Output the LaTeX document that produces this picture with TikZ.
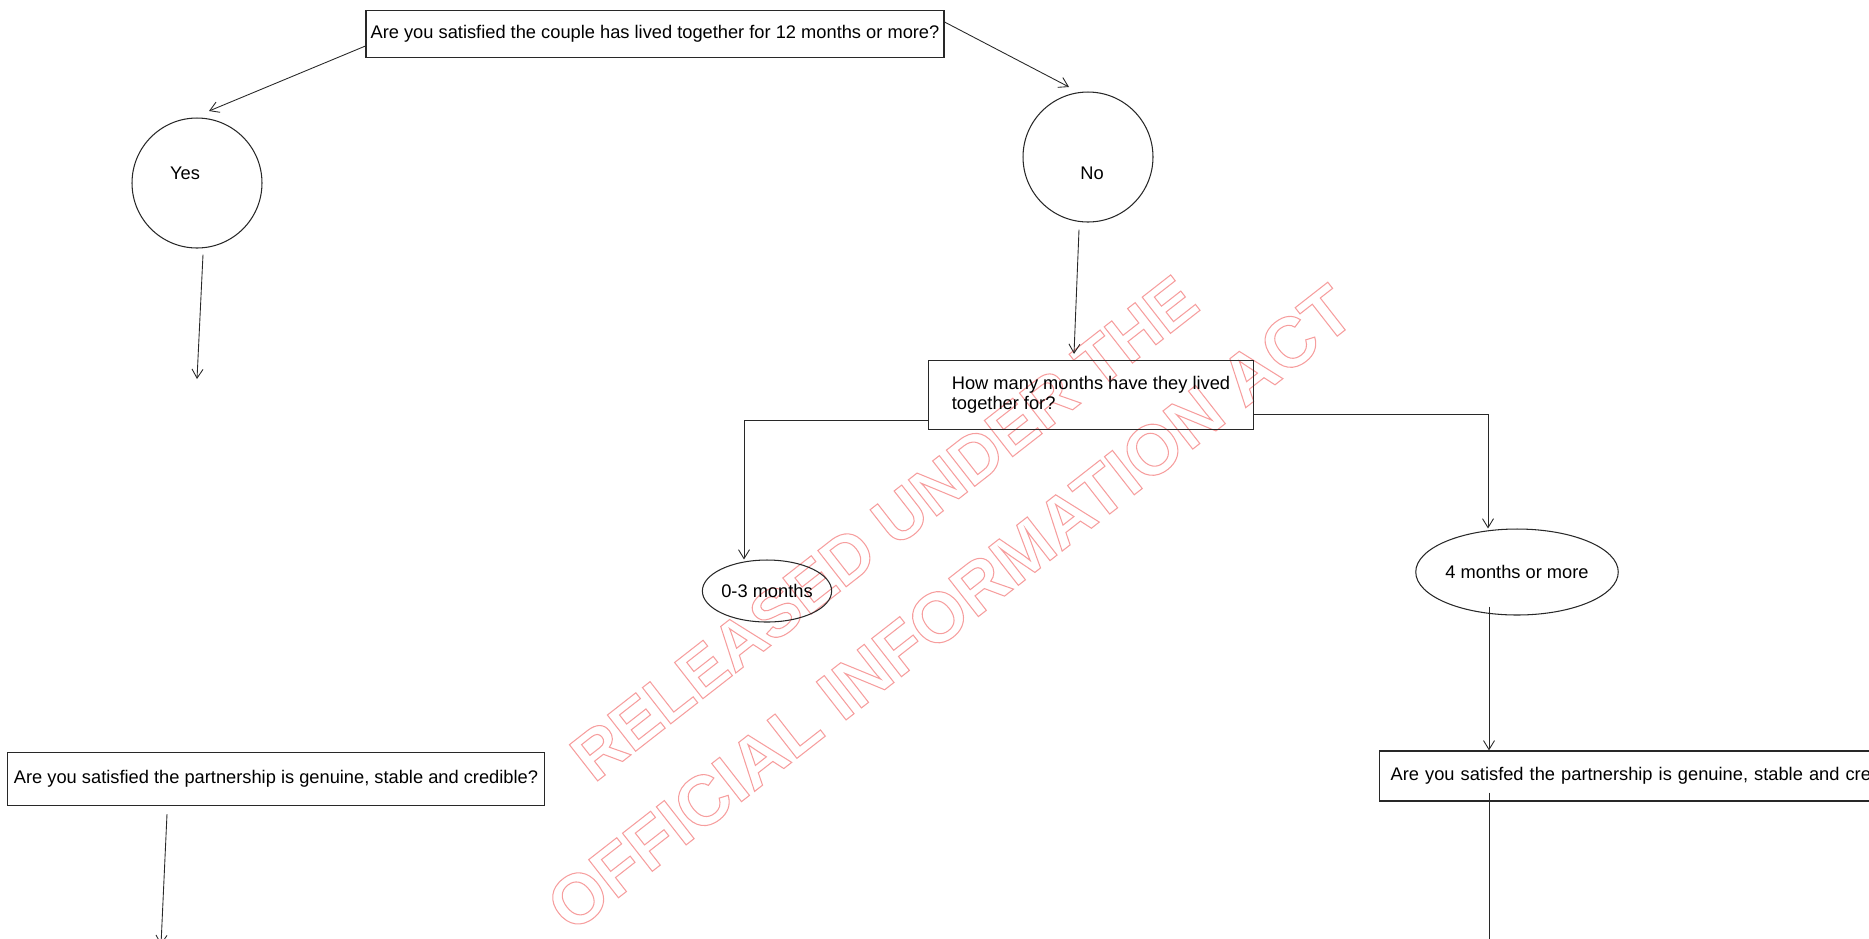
\documentclass[tikz,border=0pt]{standalone}
\usepackage{fontspec}
\setmainfont{Liberation Sans}
\usetikzlibrary{arrows.meta,calc,positioning,shapes.geometric}
\definecolor{edge}{RGB}{40,40,40}
\definecolor{stampred}{RGB}{246,158,158}
\newcommand{\outlined}[1]{\special{pdf:literal direct 1 Tr 0.6 w}#1\special{pdf:literal direct 0 Tr}}

\begin{document}
\begin{tikzpicture}[
  x=0.02cm, y=-0.02cm,
  font=\fontsize{10.4}{11.5}\selectfont,
  qbox/.style={draw=edge, line width=0.7pt, inner sep=0pt, align=center},
  yn/.style={draw=edge, circle, line width=0.6pt, minimum size=2.6cm, inner sep=0pt},
  dur/.style={draw=edge, ellipse, line width=0.6pt, inner sep=0pt},
  stamp/.style={text=stampred, font=\bfseries, rotate=38, inner sep=0pt},
  arr/.style={-{Straight Barb[length=1.8mm,width=2.2mm]}, edge, line width=0.5pt},
  link/.style={edge, line width=0.5pt}
]
\path[use as bounding box, clip] (0,0) rectangle (1869,938);

% watermark
\node[stamp, font=\fontsize{38}{38}\selectfont\bfseries] (wm1) at (884,528) {\outlined{RELEASED UNDER THE}};
\node[stamp, font=\fontsize{40}{40}\selectfont\bfseries] (wm2) at (950,608) {\outlined{OFFICIAL INFORMATION ACT}};

\node[qbox, minimum width=11.56cm, minimum height=0.95cm] (q0) at (655,34) {Are you satisfied the couple has lived together for 12 months or more?};

\node[yn] (yes) at (197,183) {};
\node (yest) at (185,173) {Yes};
\node[yn] (no) at (1088,157) {};
\node (not) at (1092,173) {No};

\node[qbox, minimum width=6.5cm, minimum height=1.38cm, align=left] (q1) at (1091,395) {How many months have they lived\\together for?};

\node[dur, minimum width=2.56cm, minimum height=1.24cm] (m03) at (767,591) {0-3 months};
\node[dur, minimum width=3.34cm, minimum height=1.72cm] (m4) at (1517,572) {4 months or more};

\node[qbox, minimum width=10.74cm, minimum height=1.06cm] (q2) at (276,779) {Are you satisfied the partnership is genuine, stable and credible?};
\node[qbox, anchor=west, minimum width=11cm, minimum height=1cm, text width=10.56cm, align=left] (q3) at (1379,776) {Are you satisfed the partnership is genuine, stable and cre};

\coordinate (yesin) at (209,111);
\coordinate (noin) at (1069,87);
\coordinate (yesend) at (197,379);
\coordinate (q2out) at (161,945);
\coordinate (q3out) at (1489,945);

\draw[arr] ($(q0.west)+(0,12)$) -- (yesin);
\draw[arr] ($(q0.east)+(0,-12)$) -- (noin);
\draw[arr] ($(yes.south)+(6,6)$) -- (yesend);
\draw[arr] ($(no.south)+(-9,7)$) -- ($(q1.north)+(-17,-6)$);
\draw[arr] ($(q1.west)+(0,25)$) -| ($(m03.north)+(-23,0)$);
\draw[arr] ($(q1.east)+(0,19)$) -| ($(m4.north)+(-29,0)$);
\draw[arr] ($(m4.south)+(-28,-9)$) -- ($(q3.north west)+(110,0)$);
\draw[link] ($(q3.south west)+(110,-9)$) -- (q3out);
\draw[arr] ($(q2.south)+(-109,8)$) -- (q2out);
\end{tikzpicture}
\end{document}
